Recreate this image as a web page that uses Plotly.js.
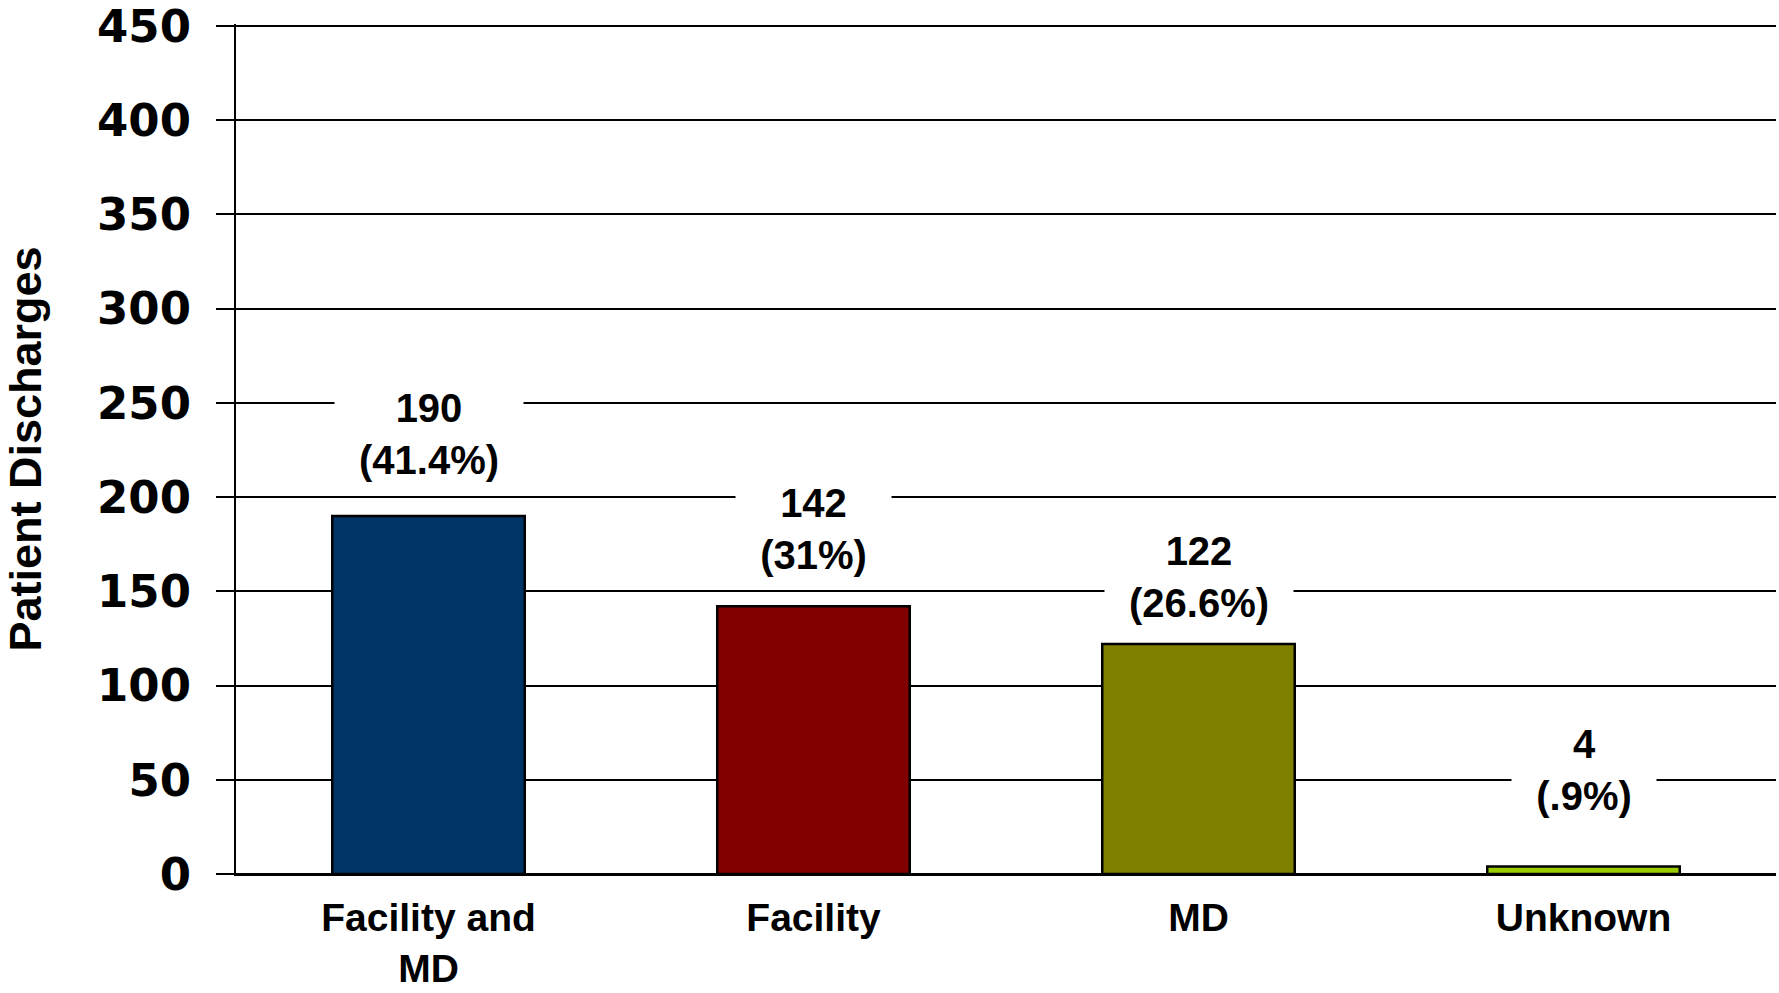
<!DOCTYPE html>
<html>
<head>
<meta charset="utf-8">
<script src="https://cdn.plot.ly/plotly-3.0.1.min.js"></script>
<style>
  html, body { margin: 0; padding: 0; background: #ffffff; }
  #chart { width: 1779px; height: 993px; }
</style>
</head>
<body>
<div id="chart"></div>
<script>
// ---- data ----
const categories = ['Facility and MD', 'Facility', 'MD', 'Unknown'];
const tickLabels = ['Facility and<br>MD', 'Facility', 'MD', 'Unknown'];
const discharges = [190, 142, 122, 4];
const percents = ['41.4%', '31%', '26.6%', '.9%'];
const yTicks = [0, 50, 100, 150, 200, 250, 300, 350, 400, 450];

// ---- styles ----
const barColors = ['#003366', '#800000', '#808000', '#99CC00'];
const labelLift = [82, 77, 67, 96]; // px above bar top (label centre)
const labelFont = 'Liberation Sans, Arial, sans-serif';
const labelSize = 40;
const sidePad = 24;

const ctx = document.createElement('canvas').getContext('2d');
ctx.font = 'bold ' + labelSize + 'px "Liberation Sans", Arial, sans-serif';

const annotations = categories.map((c, i) => {
  const line1 = String(discharges[i]);
  const line2 = '(' + percents[i] + ')';
  const w = Math.max(ctx.measureText(line1).width, ctx.measureText(line2).width);
  return {
    x: c, y: discharges[i], xref: 'x', yref: 'y',
    text: line1 + '<br>' + line2,
    showarrow: false,
    yanchor: 'middle', xanchor: 'center',
    yshift: labelLift[i],
    width: Math.round(w + 2 * sidePad),
    align: 'center',
    bgcolor: '#ffffff',
    borderpad: 0,
    font: { family: labelFont, size: labelSize, color: '#000000', weight: 'bold' }
  };
});

const trace = {
  type: 'bar',
  x: categories,
  y: discharges,
  marker: { color: barColors, line: { color: '#000000', width: 2.5 } },
  hoverinfo: 'x+y'
};

const layout = {
  width: 1779, height: 993,
  margin: { l: 236, r: 3, t: 24, b: 119, pad: 0 },
  paper_bgcolor: '#ffffff', plot_bgcolor: '#ffffff',
  showlegend: false,
  bargap: 0.5,
  font: { family: labelFont, color: '#000000' },
  xaxis: {
    type: 'category',
    tickvals: categories,
    ticktext: tickLabels,
    showgrid: false,
    ticks: '',
    showline: true, linecolor: '#000000', linewidth: 2,
    tickfont: { family: labelFont, size: 39, color: '#000000', weight: 'bold' },
    ticklabelstandoff: 8,
    ticklabeloverflow: 'allow',
    automargin: false,
    fixedrange: true
  },
  yaxis: {
    range: [0, 451],
    tickvals: yTicks,
    showgrid: true, gridcolor: '#000000', gridwidth: 2,
    zeroline: true, zerolinecolor: '#000000', zerolinewidth: 2,
    showline: true, linecolor: '#000000', linewidth: 2,
    ticks: 'outside', ticklen: 18, tickwidth: 2, tickcolor: '#000000',
    ticklabelstandoff: 16,
    ticklabeloverflow: 'allow',
    tickfont: { family: 'DejaVu Sans, sans-serif', size: 45, color: '#000000', weight: 'bold' },
    title: {
      text: 'Patient Discharges',
      font: { family: labelFont, size: 45, color: '#000000', weight: 'bold' },
      standoff: 46
    },
    automargin: false,
    fixedrange: true
  },
  annotations: annotations
};

Plotly.newPlot('chart', [trace], layout, { displayModeBar: false, staticPlot: true });
</script>
</body>
</html>
